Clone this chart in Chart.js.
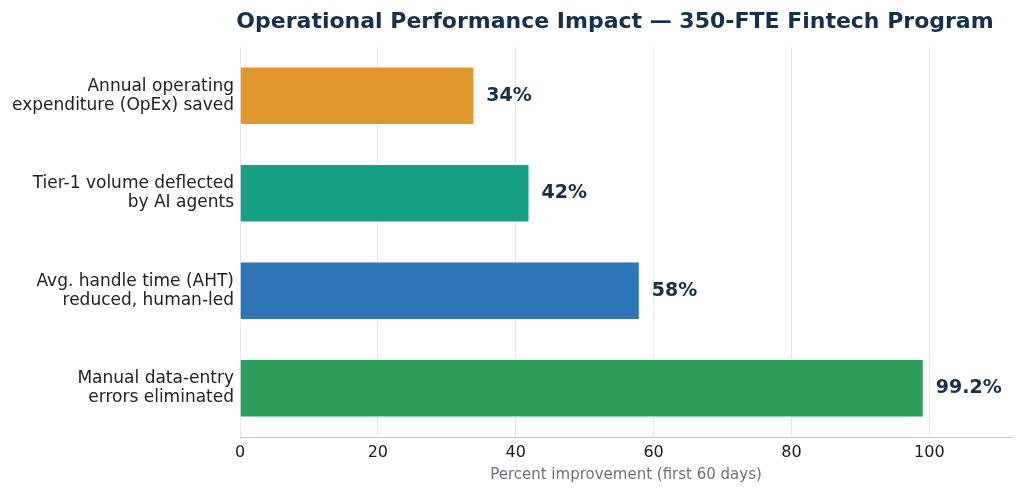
<!DOCTYPE html>
<html>
<head>
<meta charset="utf-8">
<script src="https://cdn.jsdelivr.net/npm/chart.js@4/dist/chart.umd.min.js"></script>
<style>
  html, body { margin: 0; padding: 0; background: #fff; }
  canvas { display: block; }
</style>
</head>
<body>
<canvas id="chart" width="1024" height="494"></canvas>
<script>
// data
var categories = [
    ["Annual operating", "expenditure (OpEx) saved"],
    ["Tier-1 volume deflected", "by AI agents"],
    ["Avg. handle time (AHT)", "reduced, human-led"],
    ["Manual data-entry", "errors eliminated"]
];
var improvement = [34, 42, 58, 99.2];
var valueLabels = ["34%", "42%", "58%", "99.2%"];
var barColors = ["#E0982C", "#17A088", "#2E75B6", "#2E9F5A"];
var xTicks = [0, 20, 40, 60, 80, 100];

var titleText = "Operational Performance Impact \u2014 350-FTE Fintech Program";
var navy = "#14304F";
var fontFamily = "'DejaVu Sans', sans-serif";

// draws the title and the value labels next to the bars
var annotations = {
    id: "annotations",
    afterDatasetsDraw: function (chart) {
        var ctx = chart.ctx;
        var meta = chart.getDatasetMeta(0);
        ctx.save();
        ctx.fillStyle = navy;
        ctx.font = "bold 19px " + fontFamily;
        ctx.textAlign = "left";
        ctx.textBaseline = "middle";
        meta.data.forEach(function (bar, i) {
            ctx.fillText(valueLabels[i], bar.x + 12, bar.y);
        });
        ctx.restore();
    },
    afterDraw: function (chart) {
        var ctx = chart.ctx;
        var area = chart.chartArea;
        ctx.save();
        ctx.fillStyle = navy;
        ctx.font = "bold 22px " + fontFamily;
        ctx.textAlign = "center";
        ctx.textBaseline = "middle";
        ctx.fillText(titleText, (area.left + area.right) / 2 - 11, 22);
        ctx.restore();
    }
};

new Chart(document.getElementById("chart").getContext("2d"), {
    type: "bar",
    data: {
        labels: categories,
        datasets: [{
            data: improvement,
            backgroundColor: barColors,
            borderColor: "#ffffff",
            borderWidth: 1,
            categoryPercentage: 0.6,
            barPercentage: 1.0
        }]
    },
    options: {
        indexAxis: "y",
        responsive: false,
        animation: false,
        devicePixelRatio: 1,
        layout: { padding: { top: 47, right: 12, left: 0, bottom: 10 } },
        plugins: {
            legend: { display: false },
            title: { display: false },
            tooltip: { enabled: false }
        },
        scales: {
            x: {
                min: 0,
                max: 112,
                afterBuildTicks: function (scale) {
                    scale.ticks = xTicks.map(function (v) { return { value: v }; });
                },
                afterFit: function (scale) { scale.height = 47; },
                grid: { color: "#e6e8ee", drawTicks: false, lineWidth: 1 },
                border: { color: "#c4c7cc", width: 1 },
                ticks: {
                    color: "#1a1a1a",
                    padding: 6,
                    font: { family: fontFamily, size: 16 }
                },
                title: {
                    display: true,
                    text: "Percent improvement (first 60 days)",
                    color: "#6b7280",
                    padding: { top: 0, bottom: 0 },
                    font: { family: fontFamily, size: 15 }
                }
            },
            y: {
                afterFit: function (scale) { scale.width = 240; },
                grid: { display: false, drawTicks: false },
                border: { display: false },
                ticks: {
                    color: "#222222",
                    padding: 6,
                    font: { family: fontFamily, size: 17, lineHeight: 1.1 }
                }
            }
        }
    },
    plugins: [annotations]
});
</script>
</body>
</html>
